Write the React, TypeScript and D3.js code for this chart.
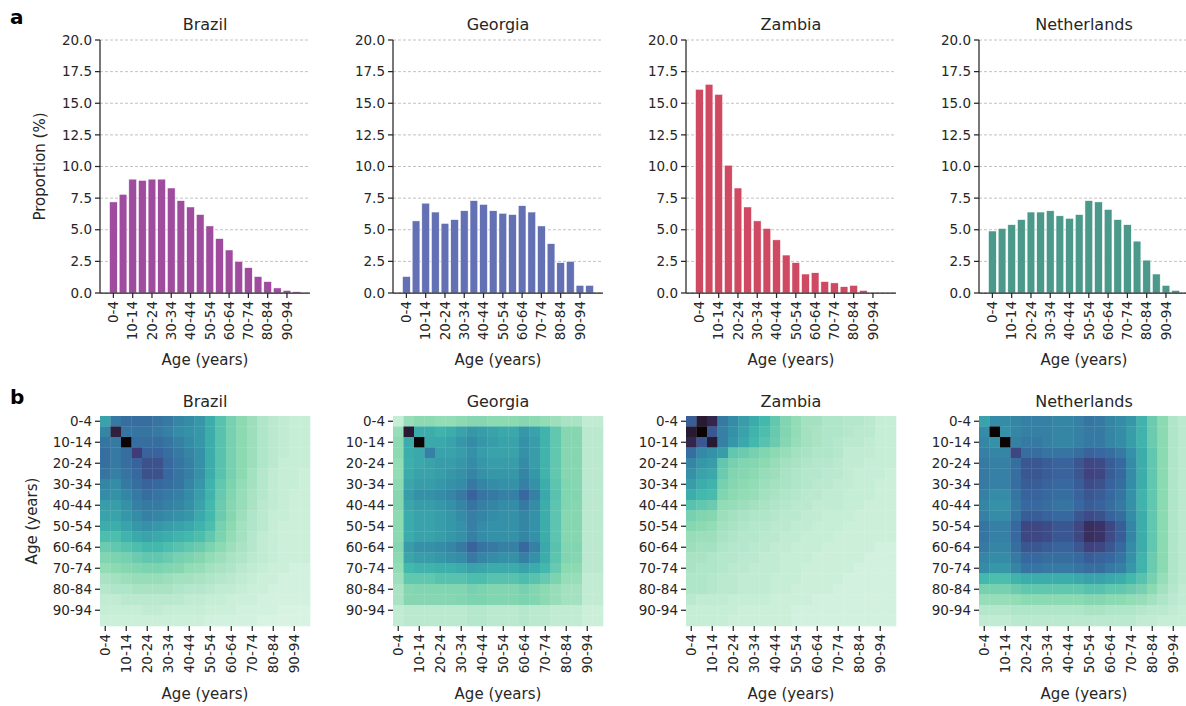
import React from "react";
import * as d3 from "d3";

const ageGroups = [
  "0-4", "5-9", "10-14", "15-19", "20-24", "25-29", "30-34", "35-39", "40-44", "45-49",
  "50-54", "55-59", "60-64", "65-69", "70-74", "75-79", "80-84", "85-89", "90-94", "95-99",
];
const tickAges = ["0-4", "10-14", "20-24", "30-34", "40-44", "50-54", "60-64", "70-74", "80-84", "90-94"];
const yTicks = [0, 2.5, 5, 7.5, 10, 12.5, 15, 17.5, 20];

const countries = ["Brazil", "Georgia", "Zambia", "Netherlands"];
const barColors = ["#9f4c9f", "#6370b4", "#d04962", "#4b998a"];

const brazilPop = [7.2, 7.8, 9.0, 8.9, 9.0, 9.0, 8.3, 7.3, 6.8, 6.2, 5.3, 4.3, 3.4, 2.5, 2.0, 1.3, 0.9, 0.4, 0.2, 0.1];
const georgiaPop = [1.3, 5.7, 7.1, 6.4, 5.5, 5.8, 6.5, 7.3, 7.0, 6.5, 6.3, 6.2, 6.9, 6.4, 5.3, 3.9, 2.4, 2.5, 0.6, 0.6];
const zambiaPop = [16.1, 16.5, 15.7, 10.1, 8.3, 6.8, 5.7, 5.1, 4.2, 3.0, 2.4, 1.5, 1.6, 0.9, 0.8, 0.5, 0.6, 0.2, 0.0, 0.0];
const netherlandsPop = [4.9, 5.1, 5.4, 5.8, 6.4, 6.4, 6.5, 6.1, 5.9, 6.2, 7.3, 7.2, 6.6, 5.8, 5.4, 4.1, 2.6, 1.5, 0.6, 0.2];

// Relative contact intensity (0 = lightest, 100 = darkest), rows = age of person, cols = age of contact
const brazilContacts = [
  [36, 50, 54, 54, 54, 52, 50, 46, 44, 40, 32, 24, 18, 14, 11, 8, 6, 5, 4, 4],
  [46, 85, 52, 52, 52, 50, 48, 44, 42, 40, 32, 24, 18, 14, 11, 8, 6, 5, 4, 4],
  [52, 50, 100, 54, 54, 54, 52, 48, 44, 40, 32, 24, 18, 14, 11, 8, 6, 5, 4, 4],
  [54, 50, 54, 72, 58, 58, 54, 50, 46, 42, 32, 24, 18, 14, 11, 8, 6, 5, 4, 4],
  [54, 50, 54, 58, 64, 64, 56, 52, 48, 42, 32, 24, 18, 14, 11, 8, 6, 4, 4, 4],
  [52, 48, 52, 56, 64, 64, 56, 52, 48, 42, 32, 24, 18, 14, 10, 7, 5, 4, 4, 3],
  [46, 44, 50, 54, 58, 56, 54, 52, 46, 40, 30, 22, 17, 13, 10, 7, 5, 4, 4, 3],
  [44, 42, 46, 50, 54, 52, 50, 48, 44, 38, 30, 21, 16, 12, 9, 7, 5, 4, 3, 3],
  [38, 38, 42, 48, 50, 50, 48, 46, 42, 36, 28, 20, 15, 12, 9, 6, 5, 4, 3, 3],
  [36, 36, 40, 44, 48, 46, 44, 42, 40, 34, 28, 20, 15, 11, 8, 6, 4, 4, 3, 3],
  [32, 32, 36, 40, 42, 40, 38, 36, 34, 30, 26, 18, 14, 10, 8, 6, 4, 3, 3, 3],
  [26, 26, 30, 34, 36, 34, 32, 30, 28, 26, 22, 17, 13, 10, 7, 5, 4, 3, 3, 3],
  [20, 22, 24, 26, 28, 28, 26, 24, 22, 20, 17, 14, 11, 9, 7, 5, 4, 3, 3, 3],
  [16, 17, 18, 20, 22, 22, 20, 18, 17, 15, 13, 11, 9, 8, 6, 5, 4, 3, 3, 3],
  [13, 14, 15, 16, 17, 17, 16, 15, 13, 12, 10, 9, 8, 6, 5, 4, 3, 3, 2, 2],
  [9, 10, 11, 12, 12, 12, 11, 10, 10, 9, 8, 7, 6, 5, 4, 3, 3, 2, 2, 2],
  [7, 8, 8, 9, 9, 9, 9, 8, 7, 7, 6, 5, 5, 4, 3, 3, 2, 2, 2, 2],
  [5, 5, 6, 6, 6, 6, 6, 6, 5, 5, 4, 4, 3, 3, 3, 2, 2, 2, 2, 2],
  [4, 4, 4, 4, 5, 5, 4, 4, 4, 4, 3, 3, 3, 2, 2, 2, 2, 1, 1, 1],
  [3, 3, 3, 3, 3, 3, 3, 3, 3, 3, 2, 2, 2, 2, 2, 1, 1, 1, 1, 1],
];

const georgiaContacts = [
  [4, 12, 14, 14, 13, 13, 14, 15, 15, 14, 14, 14, 15, 14, 13, 11, 9, 9, 5, 5],
  [12, 88, 33, 32, 30, 32, 36, 40, 38, 36, 34, 34, 40, 36, 30, 22, 15, 15, 6, 6],
  [14, 33, 100, 34, 34, 36, 40, 44, 40, 38, 36, 36, 42, 38, 30, 22, 15, 15, 6, 6],
  [14, 32, 34, 48, 36, 36, 38, 42, 38, 36, 36, 36, 42, 38, 30, 22, 15, 15, 6, 6],
  [13, 31, 34, 36, 38, 38, 40, 44, 40, 38, 38, 38, 44, 38, 30, 22, 15, 15, 6, 6],
  [13, 33, 36, 36, 38, 40, 42, 46, 42, 40, 40, 40, 46, 40, 30, 22, 15, 15, 6, 6],
  [14, 35, 38, 38, 40, 42, 44, 50, 46, 44, 42, 42, 48, 42, 32, 23, 16, 15, 6, 6],
  [15, 38, 42, 42, 44, 46, 50, 58, 52, 50, 48, 48, 56, 48, 34, 24, 16, 16, 6, 6],
  [15, 35, 38, 38, 40, 42, 46, 52, 48, 46, 44, 44, 50, 44, 32, 23, 16, 15, 6, 6],
  [14, 33, 36, 36, 38, 40, 44, 48, 46, 44, 42, 42, 46, 42, 32, 23, 15, 15, 6, 6],
  [14, 33, 36, 36, 38, 40, 42, 48, 44, 42, 42, 42, 46, 42, 32, 23, 15, 15, 6, 6],
  [14, 33, 36, 36, 38, 40, 42, 48, 44, 42, 42, 42, 46, 42, 32, 23, 15, 15, 6, 6],
  [15, 38, 42, 42, 44, 46, 50, 58, 52, 50, 48, 48, 56, 48, 34, 24, 16, 16, 6, 6],
  [14, 35, 38, 38, 40, 42, 44, 50, 46, 44, 42, 42, 48, 42, 32, 23, 16, 15, 6, 6],
  [13, 28, 30, 30, 31, 31, 33, 36, 35, 33, 33, 33, 36, 33, 28, 21, 14, 14, 6, 6],
  [11, 22, 22, 22, 24, 24, 24, 26, 26, 24, 24, 24, 26, 24, 21, 17, 12, 12, 5, 5],
  [9, 15, 16, 16, 16, 16, 16, 18, 17, 16, 16, 16, 18, 16, 14, 12, 10, 10, 5, 5],
  [9, 15, 15, 15, 15, 15, 16, 17, 17, 16, 16, 16, 17, 16, 14, 12, 10, 10, 5, 5],
  [5, 6, 6, 6, 6, 6, 6, 7, 7, 6, 6, 6, 7, 6, 6, 5, 5, 5, 3, 3],
  [5, 6, 6, 6, 6, 6, 6, 7, 7, 6, 6, 6, 7, 6, 6, 5, 5, 5, 3, 3],
];

const zambiaContacts = [
  [60, 88, 82, 50, 44, 38, 33, 28, 22, 16, 13, 10, 10, 8, 8, 7, 7, 6, 4, 4],
  [88, 100, 62, 48, 42, 36, 30, 26, 21, 16, 13, 10, 9, 8, 8, 7, 6, 6, 4, 4],
  [82, 62, 88, 48, 40, 34, 28, 24, 20, 15, 12, 10, 9, 8, 7, 6, 6, 5, 4, 4],
  [54, 45, 42, 38, 22, 20, 18, 16, 14, 12, 10, 9, 8, 8, 7, 5, 5, 5, 4, 4],
  [46, 40, 38, 22, 18, 16, 15, 14, 12, 10, 9, 8, 7, 7, 6, 5, 5, 4, 4, 4],
  [42, 36, 34, 20, 16, 15, 14, 12, 11, 9, 8, 7, 7, 6, 6, 5, 4, 4, 4, 3],
  [38, 32, 30, 18, 15, 14, 13, 11, 10, 9, 8, 7, 6, 6, 5, 5, 4, 4, 3, 3],
  [32, 28, 27, 16, 14, 13, 12, 10, 9, 8, 7, 6, 6, 5, 5, 4, 4, 4, 3, 3],
  [24, 22, 20, 13, 12, 11, 10, 9, 8, 7, 6, 6, 5, 5, 5, 4, 4, 3, 3, 3],
  [18, 16, 15, 11, 10, 9, 8, 8, 7, 6, 6, 5, 5, 4, 4, 4, 3, 3, 3, 3],
  [15, 14, 13, 10, 9, 8, 7, 7, 6, 6, 5, 5, 4, 4, 4, 3, 3, 3, 3, 3],
  [12, 11, 11, 9, 8, 7, 7, 6, 6, 5, 5, 4, 4, 4, 3, 3, 3, 3, 3, 3],
  [11, 10, 10, 8, 7, 7, 6, 6, 5, 5, 4, 4, 4, 3, 3, 3, 3, 3, 2, 2],
  [9, 9, 8, 7, 7, 6, 6, 5, 5, 4, 4, 4, 3, 3, 3, 3, 3, 2, 2, 2],
  [9, 8, 8, 7, 6, 6, 5, 5, 5, 4, 4, 3, 3, 3, 3, 3, 2, 2, 2, 2],
  [8, 8, 7, 6, 6, 5, 5, 5, 4, 4, 4, 3, 3, 3, 3, 2, 2, 2, 2, 2],
  [8, 8, 7, 6, 6, 5, 5, 5, 4, 4, 3, 3, 3, 3, 2, 2, 2, 2, 2, 2],
  [6, 5, 5, 5, 4, 4, 4, 4, 3, 3, 3, 3, 2, 2, 2, 2, 2, 2, 2, 2],
  [4, 4, 4, 4, 4, 3, 3, 3, 3, 3, 2, 2, 2, 2, 2, 2, 2, 2, 2, 2],
  [4, 4, 4, 4, 3, 3, 3, 3, 3, 3, 2, 2, 2, 2, 2, 2, 2, 2, 2, 2],
];

const netherlandsContacts = [
  [36, 44, 44, 46, 48, 48, 48, 46, 46, 48, 52, 50, 46, 44, 40, 30, 20, 14, 8, 6],
  [44, 100, 42, 46, 48, 48, 48, 46, 46, 48, 50, 50, 46, 44, 38, 30, 20, 14, 8, 6],
  [46, 42, 100, 48, 50, 50, 48, 46, 46, 48, 50, 50, 46, 44, 38, 30, 20, 14, 8, 6],
  [48, 46, 46, 68, 54, 54, 52, 52, 52, 54, 58, 56, 54, 50, 42, 32, 22, 14, 8, 6],
  [50, 48, 48, 54, 62, 62, 60, 58, 58, 62, 68, 66, 60, 56, 44, 32, 22, 14, 8, 6],
  [50, 48, 48, 54, 62, 62, 60, 58, 58, 62, 70, 68, 60, 56, 44, 32, 22, 14, 8, 6],
  [50, 48, 48, 54, 60, 60, 58, 56, 56, 60, 66, 64, 58, 54, 44, 32, 22, 14, 8, 6],
  [48, 44, 44, 52, 58, 58, 56, 54, 54, 58, 62, 60, 56, 52, 42, 30, 22, 14, 8, 6],
  [46, 42, 42, 50, 56, 56, 54, 52, 52, 56, 60, 58, 54, 50, 42, 30, 22, 14, 8, 6],
  [48, 44, 44, 52, 60, 60, 58, 56, 56, 62, 66, 64, 58, 54, 44, 32, 22, 14, 8, 6],
  [52, 48, 48, 56, 68, 68, 66, 62, 62, 68, 78, 76, 68, 60, 46, 32, 22, 14, 8, 6],
  [52, 48, 48, 56, 68, 68, 66, 62, 62, 68, 78, 76, 66, 60, 46, 32, 22, 14, 8, 6],
  [50, 46, 46, 54, 62, 62, 60, 58, 58, 62, 70, 68, 62, 56, 44, 32, 22, 14, 8, 6],
  [46, 44, 44, 50, 56, 56, 54, 54, 54, 56, 60, 58, 56, 52, 42, 30, 20, 14, 8, 6],
  [44, 40, 40, 46, 52, 52, 50, 50, 50, 52, 54, 54, 50, 48, 40, 30, 20, 14, 8, 6],
  [28, 26, 26, 30, 32, 32, 32, 32, 32, 34, 36, 36, 34, 32, 28, 24, 18, 12, 8, 6],
  [18, 18, 18, 20, 22, 22, 22, 22, 22, 22, 24, 24, 22, 22, 20, 18, 14, 10, 7, 5],
  [12, 12, 12, 13, 14, 14, 14, 14, 14, 14, 15, 15, 14, 14, 13, 12, 10, 8, 6, 5],
  [7, 7, 7, 8, 8, 8, 8, 8, 8, 8, 9, 9, 8, 8, 8, 7, 6, 6, 5, 4],
  [5, 5, 5, 6, 6, 6, 6, 6, 6, 6, 6, 6, 6, 6, 6, 5, 5, 4, 4, 4],
];

const populations = [brazilPop, georgiaPop, zambiaPop, netherlandsPop];
const contactMatrices = [brazilContacts, georgiaContacts, zambiaContacts, netherlandsContacts];

// mako colormap stops (dark -> light); reversed use
const makoStops = ["#0b0405", "#2e1e3b", "#413d7b", "#37659e", "#348fa7", "#40b7ad", "#8ad9b1", "#def5e5"];

const FONT = "DejaVu Sans, Verdana, sans-serif";
const TXT = "#262626";

const PANEL_X0 = 100;
const PANEL_STEP = 293;
const PANEL_W = 210;
const BAR_TOP = 40;
const BAR_BOTTOM = 293;
const HM_TOP = 416;
const HM_SIZE = 210;

export default function App() {
  const makoR = d3
    .scaleLinear<string>()
    .domain(makoStops.map((_, i) => 100 - (i * 100) / (makoStops.length - 1)))
    .range(makoStops)
    .interpolate(d3.interpolateRgb)
    .clamp(true);

  const y = d3.scaleLinear().domain([0, 20]).range([BAR_BOTTOM, BAR_TOP]);

  return (
    <svg width={1186} height={706} style={{ display: "block", position: "absolute", left: 0, top: 0 }} fontFamily={FONT}>
      <rect x={0} y={0} width={1186} height={706} fill="#ffffff" />
      <text x={10} y={24} fontSize={20} fontWeight="bold" fill="#000">a</text>
      <text x={10} y={404} fontSize={20} fontWeight="bold" fill="#000">b</text>

      {countries.map((name, ci) => {
        const x0 = PANEL_X0 + ci * PANEL_STEP;
        const x = d3.scaleLinear().domain([-1.39, 20.39]).range([x0, x0 + PANEL_W]);
        const bw = x(0.4) - x(-0.4);
        const pop = populations[ci];
        const cx = x0 + PANEL_W / 2;
        return (
          <g key={"bar" + name}>
            <text x={cx} y={30} fontSize={16} textAnchor="middle" fill={TXT}>{name}</text>
            {yTicks.map((t) => (
              <line key={"g" + t} x1={x0} x2={x0 + PANEL_W} y1={y(t)} y2={y(t)} stroke="#b3b3b3" strokeWidth={0.8} strokeDasharray="3,2" />
            ))}
            {pop.map((v, i) => (
              <rect key={i} x={x(i) - bw / 2} y={y(v)} width={bw} height={y(0) - y(v)} fill={barColors[ci]} stroke="#ffffff" strokeWidth={0.5} />
            ))}
            <line x1={x0} x2={x0} y1={BAR_TOP} y2={BAR_BOTTOM} stroke={TXT} strokeWidth={1.25} />
            <line x1={x0} x2={x0 + PANEL_W} y1={BAR_BOTTOM} y2={BAR_BOTTOM} stroke={TXT} strokeWidth={1.25} />
            {yTicks.map((t) => (
              <g key={"yt" + t}>
                <line x1={x0 - 5} x2={x0} y1={y(t)} y2={y(t)} stroke={TXT} strokeWidth={1.25} />
                <text x={x0 - 8} y={y(t)} dy="0.35em" fontSize={13.5} textAnchor="end" fill={TXT}>{t.toFixed(1)}</text>
              </g>
            ))}
            {tickAges.map((a) => {
              const i = ageGroups.indexOf(a);
              const tx = x(i);
              return (
                <g key={"xt" + a}>
                  <line x1={tx} x2={tx} y1={BAR_BOTTOM} y2={BAR_BOTTOM + 5} stroke={TXT} strokeWidth={1.25} />
                  <text transform={`translate(${tx},${BAR_BOTTOM + 8}) rotate(-90)`} dy="0.35em" fontSize={13.5} textAnchor="end" fill={TXT}>{a}</text>
                </g>
              );
            })}
            <text x={cx} y={365} fontSize={15} textAnchor="middle" fill={TXT}>Age (years)</text>
          </g>
        );
      })}
      <text transform={`translate(45,${(BAR_TOP + BAR_BOTTOM) / 2}) rotate(-90)`} fontSize={15} textAnchor="middle" fill={TXT}>Proportion (%)</text>

      {countries.map((name, ci) => {
        const x0 = PANEL_X0 + ci * PANEL_STEP;
        const xb = d3.scaleBand<string>().domain(ageGroups).range([x0, x0 + HM_SIZE]);
        const yb = d3.scaleBand<string>().domain(ageGroups).range([HM_TOP, HM_TOP + HM_SIZE]);
        const m = contactMatrices[ci];
        const cx = x0 + HM_SIZE / 2;
        return (
          <g key={"hm" + name}>
            <text x={cx} y={407} fontSize={16} textAnchor="middle" fill={TXT}>{name}</text>
            {m.map((row, ri) =>
              row.map((v, cj) => (
                <rect key={ri + "-" + cj} x={xb(ageGroups[cj])} y={yb(ageGroups[ri])} width={xb.bandwidth() + 0.3} height={yb.bandwidth() + 0.3} fill={makoR(v)} />
              ))
            )}
            {tickAges.map((a) => {
              const ty = (yb(a) as number) + yb.bandwidth() / 2;
              const tx = (xb(a) as number) + xb.bandwidth() / 2;
              return (
                <g key={"ht" + a}>
                  <line x1={x0 - 5} x2={x0} y1={ty} y2={ty} stroke={TXT} strokeWidth={1.25} />
                  <text x={x0 - 8} y={ty} dy="0.35em" fontSize={13.5} textAnchor="end" fill={TXT}>{a}</text>
                  <line x1={tx} x2={tx} y1={HM_TOP + HM_SIZE} y2={HM_TOP + HM_SIZE + 5} stroke={TXT} strokeWidth={1.25} />
                  <text transform={`translate(${tx},${HM_TOP + HM_SIZE + 8}) rotate(-90)`} dy="0.35em" fontSize={13.5} textAnchor="end" fill={TXT}>{a}</text>
                </g>
              );
            })}
            <text x={cx} y={699} fontSize={15} textAnchor="middle" fill={TXT}>Age (years)</text>
          </g>
        );
      })}
      <text transform={`translate(37,${HM_TOP + HM_SIZE / 2}) rotate(-90)`} fontSize={15} textAnchor="middle" fill={TXT}>Age (years)</text>
    </svg>
  );
}
